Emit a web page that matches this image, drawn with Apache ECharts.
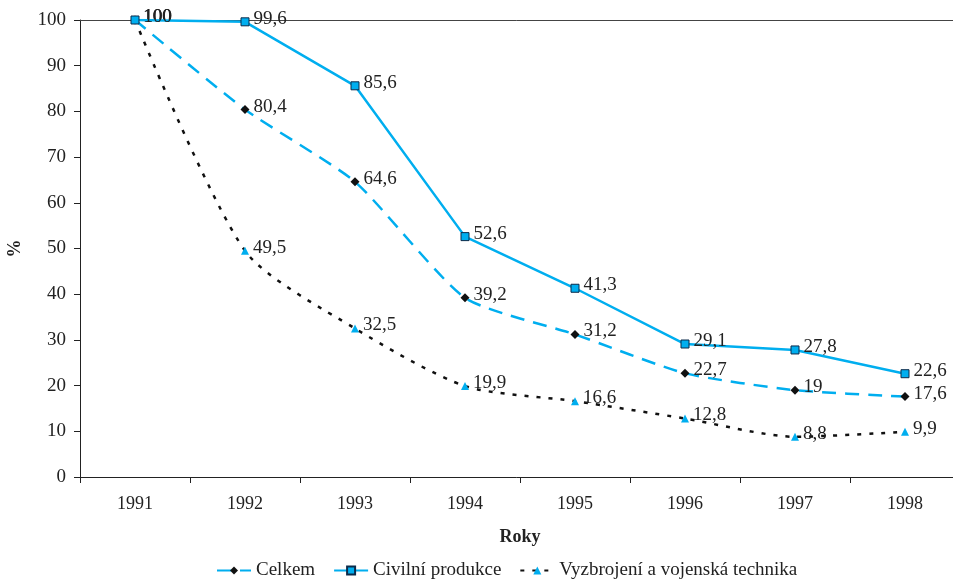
<!DOCTYPE html>
<html>
<head>
<meta charset="utf-8">
<script src="https://cdn.jsdelivr.net/npm/echarts@6/dist/echarts.min.js"></script>
<style>html,body{margin:0;padding:0;background:#fff;}#c{width:953px;height:584px;}</style>
</head>
<body>
<div id="c"></div>
<script>
var categories = ['1991','1992','1993','1994','1995','1996','1997','1998'];
var celkem = [100, 80.4, 64.6, 39.2, 31.2, 22.7, 19, 17.6];
var civilni = [100, 99.6, 85.6, 52.6, 41.3, 29.1, 27.8, 22.6];
var vyzbrojeni = [100, 49.5, 32.5, 19.9, 16.6, 12.8, 8.8, 9.9];
var seriesNames = ['Celkem', 'Civilní produkce', 'Vyzbrojení a vojenská technika'];

var BLUE = '#00AEEF';
var FONT = 'Liberation Serif';
var chart = echarts.init(document.getElementById('c'));
function fmt(p){ return String(p.value).replace('.', ','); }
var labelBase = {show: true, position: 'right', fontFamily: FONT, fontSize: 19, color: '#222', formatter: fmt, distance: 4, offset: [0, -3]};

chart.setOption({
  animation: false,
  textStyle: {fontFamily: FONT},
  grid: {left: 80, top: 20, width: 880, height: 457, containLabel: false, outerBoundsMode: 'none'},
  legend: {
    bottom: -1, left: 211, itemGap: 18, itemWidth: 34, itemHeight: 10,
    textStyle: {fontFamily: FONT, fontSize: 19, color: '#222'},
    data: seriesNames
  },
  xAxis: [{
    type: 'category', data: categories, boundaryGap: true,
    name: 'Roky', nameLocation: 'middle', nameGap: 51,
    nameTextStyle: {fontFamily: FONT, fontSize: 18, fontWeight: 'bold', color: '#222'},
    axisLine: {lineStyle: {color: '#222', width: 1}},
    axisTick: {show: true, inside: false, length: 6, alignWithLabel: false, lineStyle: {color: '#222'}},
    axisLabel: {fontFamily: FONT, fontSize: 18, color: '#222', margin: 18}
  }, {
    type: 'category', data: categories, position: 'top',
    axisLine: {show: true, lineStyle: {color: '#444', width: 1}},
    axisTick: {show: false}, axisLabel: {show: false}
  }],
  yAxis: {
    type: 'value', min: 0, max: 100, interval: 10,
    name: '%', nameLocation: 'middle', nameGap: 56,
    nameTextStyle: {fontFamily: FONT, fontSize: 18, fontWeight: 'bold', color: '#222'},
    axisLine: {show: true, lineStyle: {color: '#222', width: 1}},
    axisTick: {show: true, inside: false, length: 6, lineStyle: {color: '#222'}},
    axisLabel: {fontFamily: FONT, fontSize: 19, color: '#222', margin: 14},
    splitLine: {show: false}
  },
  series: [{
    name: seriesNames[0], type: 'line', data: celkem, smooth: 0.2,
    lineStyle: {color: BLUE, width: 2.5, type: [14, 9]},
    itemStyle: {color: '#111'}, symbol: 'diamond', symbolSize: 9,
    label: labelBase, z: 3
  }, {
    name: seriesNames[1], type: 'line', data: civilni, smooth: false,
    lineStyle: {color: BLUE, width: 2.5},
    itemStyle: {color: BLUE, borderColor: '#0b2a4a', borderWidth: 1}, symbol: 'rect', symbolSize: 8,
    label: labelBase, z: 4
  }, {
    name: seriesNames[2], type: 'line', data: vyzbrojeni, smooth: 0.25,
    lineStyle: {color: '#111', width: 2.5, type: [4, 8]},
    itemStyle: {color: BLUE}, symbol: 'triangle', symbolSize: 8,
    label: Object.assign({}, labelBase), z: 2
  }]
});
</script>
</body>
</html>
